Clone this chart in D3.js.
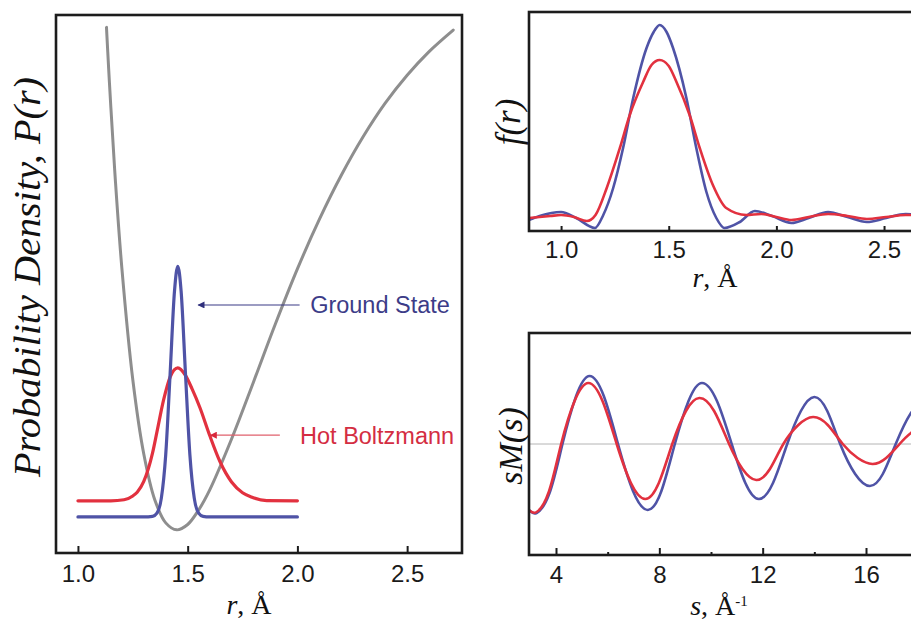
<!DOCTYPE html>
<html>
<head>
<meta charset="utf-8">
<script src="https://cdn.jsdelivr.net/npm/d3@7"></script>
<style>
  html, body { margin: 0; padding: 0; background: #fff; overflow: hidden; }
  svg { display: block; }
</style>
</head>
<body>
<svg id="chart" width="911" height="622"></svg>
<script>
// ---------- DATA ----------
// Left panel: potential curve and probability densities P(r)
const potR = [1.13, 1.14, 1.15, 1.17, 1.20, 1.25, 1.30, 1.35, 1.40, 1.45, 1.50, 1.55, 1.60, 1.70, 1.80, 1.90, 2.00, 2.10, 2.20, 2.30, 2.40, 2.50, 2.60, 2.71];
const potV = [97.7, 90.0, 82.8, 69.6, 53.0, 32.2, 18.4, 9.9, 5.6, 4.3, 5.3, 8.0, 11.7, 21.2, 31.8, 42.6, 52.8, 62.0, 70.2, 77.4, 83.6, 88.8, 93.2, 97.2];

const groundR = [1.00, 1.30, 1.34, 1.36, 1.38, 1.40, 1.42, 1.44, 1.455, 1.47, 1.49, 1.51, 1.53, 1.55, 1.57, 1.60, 2.00];
const groundP = [6.7, 6.7, 6.8, 7.4, 10.2, 18.3, 33.3, 48.7, 53.3, 48.7, 33.3, 18.3, 10.2, 7.4, 6.8, 6.7, 6.7];

const hotR = [1.00, 1.15, 1.21, 1.25, 1.27, 1.30, 1.34, 1.36, 1.39, 1.42, 1.455, 1.49, 1.52, 1.556, 1.60, 1.647, 1.70, 1.75, 1.79, 1.86, 2.00];
const hotP = [9.7, 9.7, 9.9, 10.6, 11.3, 13.3, 18.6, 22.5, 28.4, 32.7, 34.4, 33.0, 30.5, 27.0, 21.9, 17.0, 13.2, 11.2, 10.4, 9.75, 9.7];

// Top-right panel: f(r)
const fGroundR = [0.85, 0.90, 1.00, 1.07, 1.157, 1.196, 1.242, 1.288, 1.335, 1.397, 1.43, 1.458, 1.49, 1.52, 1.582, 1.628, 1.675, 1.721, 1.759, 1.83, 1.90, 1.98, 2.07, 2.15, 2.24, 2.33, 2.42, 2.51, 2.60, 2.67];
const fGround  = [1.1, 1.5, 1.9, 1.3, 0.3, 1.6, 4.3, 8.3, 13.3, 18.3, 19.9, 20.6, 19.9, 18.3, 13.3, 8.3, 3.9, 1.3, 0.3, 0.9, 2.0, 1.5, 0.8, 1.3, 1.9, 1.4, 0.9, 1.3, 1.7, 1.6];

const fHotR = [0.85, 0.95, 1.00, 1.06, 1.12, 1.16, 1.212, 1.273, 1.319, 1.381, 1.42, 1.458, 1.50, 1.536, 1.597, 1.644, 1.705, 1.767, 1.86, 1.93, 2.00, 2.07, 2.15, 2.24, 2.33, 2.42, 2.51, 2.60, 2.67];
const fHot  = [1.3, 1.5, 1.6, 1.4, 1.0, 1.6, 4.3, 8.3, 11.6, 14.9, 16.6, 17.1, 16.5, 14.9, 11.6, 8.3, 4.6, 2.3, 1.6, 1.7, 1.4, 1.1, 1.4, 1.7, 1.5, 1.2, 1.4, 1.6, 1.6];

// Bottom-right panel: sM(s)
const sGroundS = [2.9, 3.0, 3.25, 3.75, 4.25, 4.78, 5.3, 5.85, 6.4, 6.98, 7.55, 8.08, 8.6, 9.13, 9.65, 10.23, 10.8, 11.33, 11.85, 12.4, 12.95, 13.48, 14.0, 14.5, 15.0, 15.58, 16.15, 16.65, 17.15, 17.74, 18.2];
const sGround  = [-6.6, -6.7, -6.9, -4.9, 0, 4.8, 6.8, 4.8, 0, -4.7, -6.6, -4.7, 0, 4.3, 6.1, 4.3, 0, -3.9, -5.5, -3.9, 0, 3.3, 4.7, 3.3, 0, -3.0, -4.2, -3.0, 0, 3.1, 4.2];

const sHotS = [2.9, 3.0, 3.25, 3.72, 4.2, 4.72, 5.25, 5.8, 6.35, 6.9, 7.45, 7.98, 8.5, 9.03, 9.55, 10.12, 10.7, 11.22, 11.75, 12.28, 12.8, 13.38, 13.95, 14.52, 15.1, 15.68, 16.25, 16.78, 17.3, 17.74, 18.2];
const sHot  = [-6.6, -6.7, -6.8, -4.8, 0, 4.3, 6.1, 4.3, 0, -3.9, -5.5, -3.9, 0, 3.3, 4.6, 3.3, 0, -2.5, -3.6, -2.5, 0, 1.9, 2.7, 1.9, 0, -1.4, -2.0, -1.4, 0, 1.1, 1.8];

// Tick labels
const ticksA = [1.0, 1.5, 2.0, 2.5];
const ticksB = [1.0, 1.5, 2.0, 2.5];
const ticksC = [4, 8, 12, 16];
const minorC = [6, 10, 14];

// ---------- STYLE ----------
const BLUE = "#4f53a6";
const RED = "#e2313f";
const GRAY = "#8e8e8e";
const BOX = "#1c1c1c";
const SANS = "'Liberation Sans', Arial, sans-serif";
const SERIF = "'Liberation Serif', 'Times New Roman', serif";

const svg = d3.select("#chart");
const defs = svg.append("defs");

function zip(xs, ys) { return xs.map((x, i) => ({ x: x, y: ys[i] })); }

function panel(id, x0, x1, y0, y1, xDom, yDom) {
  const xs = d3.scaleLinear().domain(xDom).range([x0, x1]);
  const ys = d3.scaleLinear().domain(yDom).range([y1, y0]);
  defs.append("clipPath").attr("id", id)
    .append("rect").attr("x", x0).attr("y", y0).attr("width", x1 - x0).attr("height", y1 - y0);
  const g = svg.append("g");
  const plot = g.append("g").attr("clip-path", `url(#${id})`);
  return { xs, ys, g, plot, x0, x1, y0, y1 };
}

function drawLine(p, data, color, width, curve) {
  const line = d3.line().x(d => p.xs(d.x)).y(d => p.ys(d.y)).curve(curve || d3.curveMonotoneX);
  p.plot.append("path").datum(data)
    .attr("fill", "none").attr("stroke", color).attr("stroke-width", width)
    .attr("stroke-linejoin", "round").attr("stroke-linecap", "round")
    .attr("d", line);
}

function box(p) {
  p.g.append("rect").attr("x", p.x0).attr("y", p.y0)
    .attr("width", p.x1 - p.x0).attr("height", p.y1 - p.y0)
    .attr("fill", "none").attr("stroke", BOX).attr("stroke-width", 2.6);
}

function xAxis(p, ticks, fmt, size, pad) {
  const ax = d3.axisBottom(p.xs).tickValues(ticks).tickFormat(fmt)
    .tickSizeInner(-size).tickSizeOuter(0).tickPadding(pad);
  const g = p.g.append("g").attr("transform", `translate(0,${p.y1})`).call(ax);
  g.select(".domain").remove();
  g.selectAll(".tick line").attr("stroke", BOX).attr("stroke-width", 2);
  g.selectAll(".tick text").attr("fill", "#1a1a1a").style("font-family", SANS).style("font-size", "24px");
  return g;
}

// ---------- PANEL A (left) ----------
const A = panel("clipA", 56, 462, 15, 553, [0.9, 2.75], [0, 100]);
drawLine(A, zip(potR, potV), GRAY, 3, d3.curveCatmullRom);
drawLine(A, zip(hotR, hotP), RED, 3.2);
drawLine(A, zip(groundR, groundP), BLUE, 3.2);
box(A);
xAxis(A, ticksA, d3.format(".1f"), 7, 12);

// annotations
const mk = (id, color) => {
  defs.append("marker").attr("id", id).attr("viewBox", "0 0 10 10")
    .attr("refX", 9).attr("refY", 5).attr("markerWidth", 10).attr("markerHeight", 7)
    .attr("markerUnits", "userSpaceOnUse").attr("orient", "auto")
    .append("path").attr("d", "M0,0 L10,5 L0,10 Z").attr("fill", color);
};
mk("arrBlue", "#2f2f7c");
mk("arrRed", "#d8283c");

const gsY = A.ys(46.1), hbY = A.ys(21.9);
A.g.append("line").attr("x1", A.xs(2.01)).attr("x2", A.xs(1.548)).attr("y1", gsY).attr("y2", gsY)
  .attr("stroke", "#3a3a86").attr("stroke-width", 1.2).attr("marker-end", "url(#arrBlue)");
A.g.append("text").attr("x", A.xs(2.058)).attr("y", gsY).attr("dy", "0.36em")
  .attr("fill", "#3c3c88").style("font-family", SANS).style("font-size", "23.5px").text("Ground State");
A.g.append("line").attr("x1", A.xs(1.92)).attr("x2", A.xs(1.604)).attr("y1", hbY).attr("y2", hbY)
  .attr("stroke", "#e0606c").attr("stroke-width", 1.2).attr("marker-end", "url(#arrRed)");
A.g.append("text").attr("x", A.xs(2.012)).attr("y", hbY).attr("dy", "0.36em")
  .attr("fill", "#d42d42").style("font-family", SANS).style("font-size", "23.5px").text("Hot Boltzmann");

// axis titles
svg.append("text").attr("transform", "translate(27,277) rotate(-90)")
  .attr("text-anchor", "middle").attr("dy", "0.35em")
  .attr("textLength", 400).attr("lengthAdjust", "spacingAndGlyphs")
  .style("font-family", SERIF).style("font-style", "italic").style("font-size", "37px").attr("fill", "#111")
  .text("Probability Density, P(r)");

function rTitle(x, y) {
  const t = svg.append("text").attr("x", x).attr("y", y).attr("text-anchor", "middle")
    .style("font-family", SERIF).style("font-size", "28px").attr("fill", "#111");
  t.append("tspan").style("font-style", "italic").text("r");
  t.append("tspan").text(", Å");
}
rTitle(249, 614);

// ---------- PANEL B (top right) ----------
const B = panel("clipB", 529, 920, 12, 231, [0.851, 2.667], [0, 21.9]);
drawLine(B, zip(fGroundR, fGround), BLUE, 2.6);
drawLine(B, zip(fHotR, fHot), RED, 2.6);
box(B);
xAxis(B, ticksB, d3.format(".1f"), 5, 10);
rTitle(715, 287);
svg.append("text").attr("transform", "translate(508,122) rotate(-90)")
  .attr("text-anchor", "middle").attr("dy", "0.35em")
  .style("font-family", SERIF).style("font-style", "italic").style("font-size", "35px").attr("fill", "#111")
  .text("f(r)");

// ---------- PANEL C (bottom right) ----------
const C = panel("clipC", 529, 920, 333, 555, [2.955, 18.09], [-11.1, 11.1]);
C.plot.append("line").attr("x1", C.x0).attr("x2", C.x1).attr("y1", C.ys(0)).attr("y2", C.ys(0))
  .attr("stroke", "#b4b4b4").attr("stroke-width", 1);
drawLine(C, zip(sGroundS, sGround), BLUE, 2.6, d3.curveNatural);
drawLine(C, zip(sHotS, sHot), RED, 2.6, d3.curveNatural);
box(C);
xAxis(C, ticksC, d3.format("d"), 7, 11);
const minorAx = d3.axisBottom(C.xs).tickValues(minorC).tickFormat("").tickSizeInner(-3).tickSizeOuter(0);
const mg = C.g.append("g").attr("transform", `translate(0,${C.y1})`).call(minorAx);
mg.select(".domain").remove();
mg.selectAll(".tick line").attr("stroke", BOX).attr("stroke-width", 2);

const sT = svg.append("text").attr("x", 719).attr("y", 615).attr("text-anchor", "middle")
  .style("font-family", SERIF).style("font-size", "28px").attr("fill", "#111");
sT.append("tspan").style("font-style", "italic").text("s");
sT.append("tspan").text(", Å");
sT.append("tspan").attr("dy", "-0.6em").style("font-size", "15px").text("-1");

svg.append("text").attr("transform", "translate(510,446) rotate(-90)")
  .attr("text-anchor", "middle").attr("dy", "0.35em")
  .style("font-family", SERIF).style("font-style", "italic").style("font-size", "34px").attr("fill", "#111")
  .text("sM(s)");
</script>
</body>
</html>
